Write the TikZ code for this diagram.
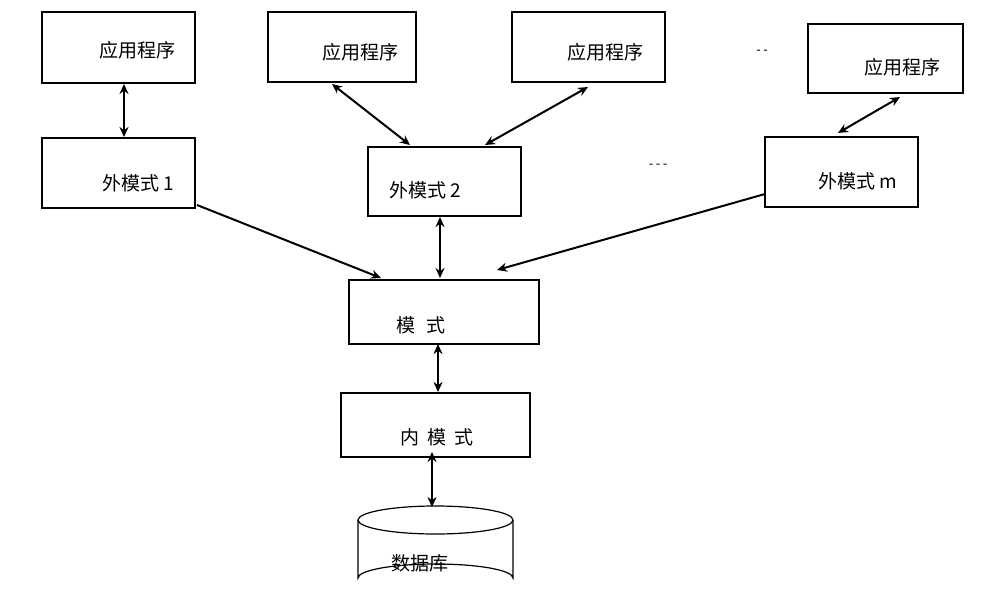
\documentclass[tikz,border=0pt]{standalone}
\usepackage{fontspec}
\setmainfont{Liberation Serif}
\newfontfamily\cjk{Noto Sans CJK SC}
\usetikzlibrary{shapes.geometric,arrows.meta}
\begin{document}
\begin{tikzpicture}[x=1pt,y=-1pt,
 box/.style={draw,line width=1.2pt},
 lab/.style={font=\fontsize{19}{22}\selectfont\cjk},
 ar/.style={line width=2pt,{Stealth[length=10pt,width=9pt]}-{Stealth[length=10pt,width=9pt]}},
 ra/.style={line width=2pt,-{Stealth[length=10pt,width=9pt]}}]
\useasboundingbox (0,0) rectangle (997,608);
\draw[box] (42,12) rectangle (195,83) coordinate (a1c);
\draw[box] (268,12) rectangle (416,82);
\draw[box] (512,12) rectangle (665,82);
\draw[box] (808,24) rectangle (963,93);
\draw[box] (42,138) rectangle (195,208);
\draw[box] (368,147) rectangle (521,216);
\draw[box] (765,137) rectangle (918,207);
\draw[box] (349,280) rectangle (539,344);
\draw[box] (341,393) rectangle (530,457);
\node[lab] (a1) at (137,50) {应用程序};
\node[lab] (a2) at (360,52) {应用程序};
\node[lab] (a3) at (605,52) {应用程序};
\node[lab] (a4) at (902,67) {应用程序};
\node[lab] (e1) at (138,183) {外模式 1};
\node[lab] (e2) at (425,190) {外模式 2};
\node[lab] (em) at (858,181) {外模式 m};
\node[lab] (s) at (421,325) {模\hspace{0.6em}式};
\node[lab] (i) at (437,437) {内\hspace{0.4em}模\hspace{0.4em}式};
\node[font=\bfseries\large] (d1) at (762,52) {- -};
\node[font=\bfseries\large] (d2) at (658,166) {- - -};
% cylinder
\draw[box,fill=white] (358,520) -- (358,578) arc[start angle=180,end angle=360,x radius=77.5,y radius=14] -- (513,520);
\draw[box,fill=white] (435.5,520) ellipse[x radius=77.5,y radius=14];
\node[lab] (db) at (420,563) {数据库};
\coordinate (p1) at (124,84); \coordinate (q1) at (124,137);
\draw[ar] (p1) -- (q1);
\coordinate (p2) at (332,84); \coordinate (q2) at (410,145);
\draw[ar] (p2) -- (q2);
\coordinate (p3) at (588,87); \coordinate (q3) at (485,145);
\draw[ar] (p3) -- (q3);
\coordinate (p4) at (900,97); \coordinate (q4) at (838,133);
\draw[ar] (p4) -- (q4);
\coordinate (p5) at (197,205); \coordinate (q5) at (381,278);
\draw[ra] (p5) -- (q5);
\coordinate (p6) at (765,194); \coordinate (q6) at (497,270);
\draw[ra] (p6) -- (q6);
\coordinate (p7) at (440,217); \coordinate (q7) at (440,278);
\draw[ar] (p7) -- (q7);
\coordinate (p8) at (438,344); \coordinate (q8) at (438,392);
\draw[ar] (p8) -- (q8);
\coordinate (p9) at (432,452); \coordinate (q9) at (432,507);
\draw[ar] (p9) -- (q9);
\end{tikzpicture}
\end{document}
